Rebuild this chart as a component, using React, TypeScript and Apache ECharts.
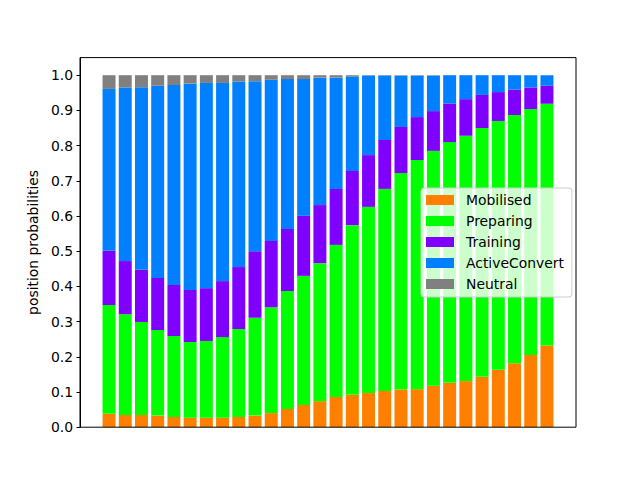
import React, { useEffect, useRef } from "react";
import * as echarts from "echarts";

const seriesNames = ["Mobilised", "Preparing", "Training", "ActiveConvert", "Neutral"];
const seriesColors = ["#ff7f00", "#00ff00", "#7f00ff", "#007fff", "#808080"];

const mobilised = [0.038, 0.035, 0.035, 0.033, 0.029, 0.027, 0.027, 0.027, 0.029, 0.033, 0.040, 0.052, 0.063, 0.074, 0.086, 0.092, 0.097, 0.103, 0.107, 0.108, 0.118, 0.126, 0.131, 0.143, 0.163, 0.182, 0.205, 0.232];
const preparing = [0.309, 0.286, 0.264, 0.243, 0.230, 0.215, 0.218, 0.229, 0.250, 0.278, 0.301, 0.335, 0.367, 0.392, 0.432, 0.482, 0.529, 0.574, 0.615, 0.651, 0.667, 0.684, 0.697, 0.707, 0.707, 0.705, 0.699, 0.687];
const training = [0.154, 0.151, 0.148, 0.148, 0.145, 0.148, 0.150, 0.159, 0.176, 0.189, 0.188, 0.176, 0.171, 0.165, 0.159, 0.154, 0.147, 0.139, 0.131, 0.122, 0.113, 0.109, 0.104, 0.094, 0.082, 0.072, 0.061, 0.051];
const activeConvert = [0.460, 0.493, 0.519, 0.546, 0.568, 0.586, 0.583, 0.563, 0.527, 0.483, 0.458, 0.426, 0.388, 0.362, 0.316, 0.268, 0.226, 0.183, 0.146, 0.118, 0.101, 0.081, 0.068, 0.056, 0.048, 0.041, 0.035, 0.030];
const neutral = [0.039, 0.035, 0.034, 0.030, 0.028, 0.024, 0.022, 0.022, 0.018, 0.017, 0.013, 0.011, 0.011, 0.007, 0.007, 0.004, 0.001, 0.001, 0.001, 0.001, 0.001, 0.000, 0.000, 0.000, 0.000, 0.000, 0.000, 0.000];

const categories = mobilised.map((_, i) => String(i));
const yTicks = [0.0, 0.1, 0.2, 0.3, 0.4, 0.5, 0.6, 0.7, 0.8, 0.9, 1.0];
const yAxisName = "position probabilities";

const FONT = "DejaVu Sans";

export default function App() {
  const ref = useRef<HTMLDivElement>(null);
  useEffect(() => {
    if (!ref.current) return;
    const chart = echarts.init(ref.current, null, { renderer: "svg" });
    const allSeries = [mobilised, preparing, training, activeConvert, neutral];
    const n = categories.length;
    // matplotlib-like x margins: data span (-0.4 .. n-0.6) plus 5% each side
    const plotW = 640 - 80 - 64;
    const span = n - 1 + 0.8;
    const unit = plotW / (span * 1.1);
    const inset = (0.05 * span - 0.1) * unit;
    const series = allSeries.map((vals, si) => ({
      name: seriesNames[si],
      type: "bar",
      stack: "total",
      xAxisIndex: 1,
      yAxisIndex: 1,
      barWidth: "80%",
      itemStyle: { color: seriesColors[si] },
      emphasis: { disabled: true },
      data: vals,
    }));
    chart.setOption({
      animation: false,
      textStyle: { fontFamily: FONT },
      grid: [
        {
          left: 80,
          right: 64,
          top: 57.6,
          bottom: 52.8,
          show: true,
          borderColor: "#000",
          borderWidth: 1,
          backgroundColor: "transparent",
          outerBoundsMode: "none",
          z: 3,
        },
        {
          left: 80 + inset,
          right: 64 + inset,
          top: 57.6,
          bottom: 52.8,
          outerBoundsMode: "none",
        },
      ],
      legend: {
        orient: "vertical",
        left: 421,
        top: 188,
        padding: [5, 8, 6, 5],
        itemWidth: 28,
        itemHeight: 10,
        itemGap: 7,
        icon: "rect",
        backgroundColor: "rgba(255,255,255,0.8)",
        borderColor: "#cccccc",
        borderWidth: 1,
        borderRadius: 3,
        selectedMode: false,
        textStyle: {
          fontFamily: FONT,
          fontSize: 13.9,
          color: "#000",
          lineHeight: 14,
          padding: [0, 0, 0, 7],
        },
        data: seriesNames,
      },
      xAxis: [
        {
          type: "value",
          gridIndex: 0,
          min: 0,
          max: 1,
          axisLine: { show: false },
          axisTick: { show: false },
          axisLabel: { show: false },
          splitLine: { show: false },
        },
        {
          type: "category",
          gridIndex: 1,
          data: categories,
          axisLine: { show: false },
          axisTick: { show: false },
          axisLabel: { show: false },
          splitLine: { show: false },
        },
      ],
      yAxis: [
        {
          type: "value",
          gridIndex: 0,
          min: 0,
          max: 1.05,
          name: yAxisName,
          nameLocation: "middle",
          nameGap: 38,
          nameTextStyle: { fontFamily: FONT, fontSize: 13.9, color: "#000" },
          axisLine: { show: true, onZero: false, lineStyle: { color: "#000", width: 1 } },
          axisTick: {
            show: true,
            length: 3.5,
            lineStyle: { color: "#000", width: 1 },
            customValues: yTicks,
          },
          axisLabel: {
            fontFamily: FONT,
            fontSize: 13.9,
            color: "#000",
            margin: 7,
            customValues: yTicks,
            formatter: (v: number) => v.toFixed(1),
          },
          splitLine: { show: false },
        },
        {
          type: "value",
          gridIndex: 1,
          min: 0,
          max: 1.05,
          axisLine: { show: false },
          axisTick: { show: false },
          axisLabel: { show: false },
          splitLine: { show: false },
        },
      ],
      series,
    });
    return () => chart.dispose();
  }, []);
  return (
    <div
      ref={ref}
      style={{ position: "absolute", left: 0, top: 0, width: 640, height: 480, background: "#fff" }}
    />
  );
}
